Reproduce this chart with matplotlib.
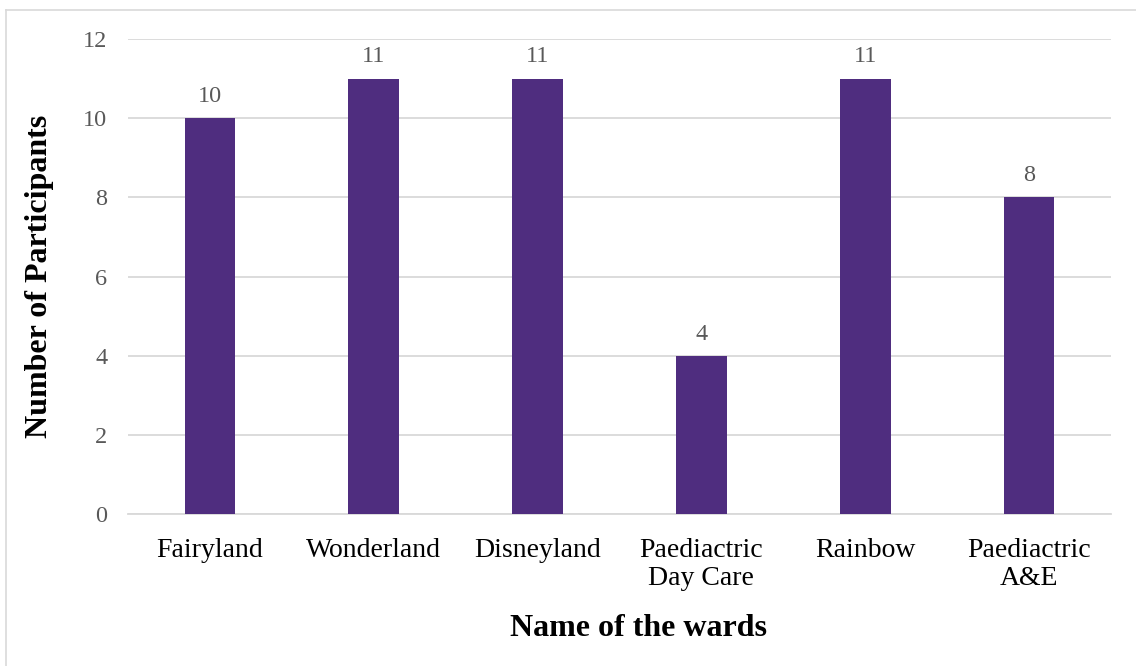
import matplotlib
matplotlib.use("Agg")
import matplotlib.pyplot as plt
from matplotlib.lines import Line2D

# Participants per ward
wards = ["Fairyland", "Wonderland", "Disneyland", "Paediactric\nDay Care", "Rainbow", "Paediactric\nA&E"]
participants = [10, 11, 11, 4, 11, 8]
y_ticks = [0, 2, 4, 6, 8, 10, 12]

bar_color = "#4F2D7F"
grid_color = "#D9D9D9"
tick_color = "#595959"

plt.rcParams["font.family"] = ["Liberation Serif", "DejaVu Serif"]

fig = plt.figure(figsize=(11.36, 6.66), dpi=100)
ax = fig.add_axes([0.1127, 0.2282, 0.978 - 0.1127, 0.9414 - 0.2282])

x = range(len(wards))
bars = ax.bar(x, participants, width=0.31, color=bar_color, zorder=3)

ax.set_xlim(-0.5, len(wards) - 0.5)
ax.set_ylim(0, 12)
ax.set_yticks(y_ticks)
ax.set_yticklabels([str(t) for t in y_ticks], color=tick_color, fontsize=17.5)
ax.set_xticks(list(x))
ax.set_xticklabels(wards, fontsize=20, color="black", linespacing=1.2)

ax.yaxis.grid(True, color=grid_color, linewidth=1.3, zorder=0)
ax.tick_params(axis="both", length=0)
ax.tick_params(axis="x", pad=17)
ax.tick_params(axis="y", pad=15)
for side in ["top", "right", "left"]:
    ax.spines[side].set_visible(False)
ax.spines["bottom"].set_color(grid_color)
ax.spines["bottom"].set_linewidth(1.3)

for rect, v in zip(bars, participants):
    ax.annotate(str(v), (rect.get_x() + rect.get_width() / 2, v),
                xytext=(0, 8), textcoords="offset points",
                ha="center", va="bottom", fontsize=17.5, color=tick_color)

ax.set_xlabel("Name of the wards", fontsize=23, fontweight="bold")
ax.xaxis.set_label_coords(0.519, -0.21)
ax.set_ylabel("Number of Participants", fontsize=23, fontweight="bold", labelpad=21)

# Chart frame (top and left edges)
fig.add_artist(Line2D([6 / 1136, 1.0], [1 - 10 / 666, 1 - 10 / 666],
                      transform=fig.transFigure, color=grid_color, linewidth=1.2))
fig.add_artist(Line2D([6 / 1136, 6 / 1136], [0.0, 1 - 10 / 666],
                      transform=fig.transFigure, color=grid_color, linewidth=1.2))

fig.savefig("out.png", dpi=100)
